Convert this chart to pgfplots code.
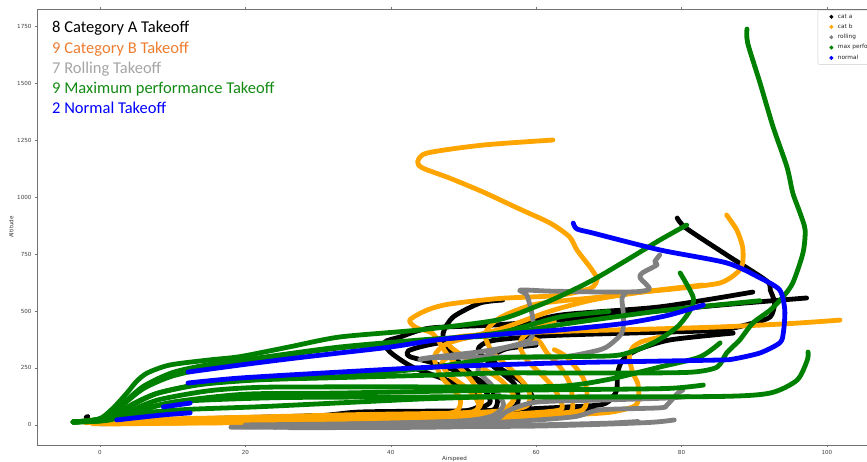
\documentclass[border=0pt]{standalone}
\usepackage{fontspec}
\setmainfont{DejaVu Sans}
\newfontfamily\carlito{Carlito}
\usepackage{pgfplots}
\pgfplotsset{compat=1.18}

\definecolor{catA}{HTML}{000000}
\definecolor{catB}{HTML}{FFA500}
\definecolor{rolling}{HTML}{808080}
\definecolor{maxp}{HTML}{008000}
\definecolor{normal}{HTML}{0000FF}
\definecolor{txtB}{HTML}{ED7D31}
\definecolor{txtR}{HTML}{A5A5A5}
\definecolor{txtG}{HTML}{138A13}

\pgfplotsset{
  traj/.style={line width=4.8pt, line cap=round, line join=round,
    smooth, tension=0.45, forget plot, no markers},
}

\begin{document}
\begin{tikzpicture}
\begin{axis}[
  scale only axis,
  width=835pt, height=436pt,
  xmin=-8.67, xmax=106.2,
  ymin=-88, ymax=1825,
  xtick={0,20,...,100},
  ytick={0,250,...,1750},
  tick align=outside,
  major tick length=2pt,
  tick style={black!55, line width=0.5pt},
  axis line style={black!55, line width=0.6pt},
  tick label style={font=\fontsize{5.6}{6}\selectfont, text=black!75},
  /pgf/number format/assume math mode=true,
  /pgf/number format/1000 sep={},
  xlabel={Airspeed}, ylabel={Altitude},
  label style={font=\fontsize{5.6}{6}\selectfont, text=black!80},
  xlabel style={yshift=5pt},
  ylabel style={yshift=-3pt},
  legend cell align=left,
  legend style={at={(rel axis cs:0.935,0.997)}, anchor=north west,
    font=\fontsize{5.8}{7}\selectfont, draw=black!20, rounded corners=1pt,
    inner sep=1.5pt, row sep=0.4pt, text=black!85},
  legend image code/.code={
    \path[draw=none, fill=none] (0,-0.05cm) rectangle (0.58cm,0.05cm);
    \fill (0.42cm,0) circle (1.8pt);},
]

% ---------------- cat a ----------------
\addplot[traj, catA] coordinates {(-1.8,12) (5,18) (15,28) (30,40) (45,50) (51,62) (53.6,96) (53.2,140) (51.9,197) (49.5,272) (47.7,342) (47.2,403) (48.6,474) (52.3,535) (55.4,548)};
\addplot[traj, catA] coordinates {(-1,8) (10,15) (25,28) (40,40) (49,55) (52,79) (52,118) (50.9,154) (47.7,197) (43,254) (39.9,320) (39.2,364) (41.3,386) (45.4,425) (55,440) (70,480) (85,525) (97.2,557)};
\addplot[traj, catA] coordinates {(-0.5,6) (12,14) (28,26) (42,38) (50,48) (54,62) (54.6,120) (52,200) (46,270) (42.6,300) (42.4,325) (45,350) (50,380) (57,430) (63.3,482) (77,518) (89.8,583)};
\addplot[traj, catA] coordinates {(0,10) (15,22) (30,34) (45,44) (53,50) (56,58) (57.5,100) (57,180) (54,260) (52,330) (54,370) (62,392) (75,405) (85.3,416) (89.8,447) (92.2,474) (92.8,535) (92.2,592) (91.7,632) (86.2,746) (80.6,864) (79.4,908)};
\addplot[traj, catA] coordinates {(0.5,8) (15,20) (35,40) (50,55) (60,72) (68.8,88) (70.5,123) (71.1,154) (71.2,228) (71.9,285) (73.9,329) (78.4,373) (87.1,403)};
\addplot[traj, catA] coordinates {(-1.2,14) (12,20) (30,34) (45,46) (55,56) (58.5,75) (59.5,120) (58,190) (55,250) (54,300) (56,335) (60,350)};
\addplot[traj, catA] coordinates {(-0.8,10) (20,30) (40,50) (55,58) (65,62) (70,64)};
\addplot[traj, catA] coordinates {(0,5) (15,20) (30,40) (36,57) (50,62) (60,68) (65,80)};
\addplot[traj, catA] coordinates {(-1.9,34) (-1.7,37)};

% ---------------- cat b ----------------
\addplot[traj, catB] coordinates {(-2.5,15) (10,22) (25,32) (40,42) (48,50) (51.5,60) (52.5,110) (51,200) (48,300) (45.8,400) (43.6,425) (42.6,460) (45,504) (48,530) (55,555) (63,568) (67.5,600) (68.4,640) (68.1,660) (67.4,693) (65.6,768) (64.6,825) (61.9,886) (57.4,952) (52.7,1022) (48.1,1083) (44.4,1127) (43.7,1154) (45,1193) (52.7,1228) (62.3,1250)};
\addplot[traj, catB] coordinates {(-2,10) (15,20) (35,35) (50,48) (55,60) (57,120) (55,200) (51,280) (48,350) (49,385) (55,400) (65,412) (75,420) (85.3,430) (95,445) (101.8,460)};
\addplot[traj, catB] coordinates {(-1.5,20) (15,30) (35,45) (52,55) (58.5,80) (59,150) (57,230) (54,320) (53,400) (55,470) (60,530) (68.8,561) (73.3,579) (80.2,601) (85.3,623) (87.6,667) (88.4,710) (88.4,781) (87.6,855) (86.2,921)};
\addplot[traj, catB] coordinates {(-1,5) (20,15) (35,28) (45,40) (49,60) (49.5,120) (47,210) (46,300) (48,360) (55,420) (62,500) (68,550) (75,585) (82.9,614)};
\addplot[traj, catB] coordinates {(0,8) (20,18) (40,30) (52,40) (58,50) (63.3,66) (63.3,110) (62.3,167) (60.5,228) (58.7,285) (57.8,342) (58.2,386) (60.9,447) (62.5,455)};
\addplot[traj, catB] coordinates {(1,4) (20,12) (40,22) (55,35) (60,45) (64.6,53) (65,110) (64.6,184) (63.3,254) (61.5,316) (60.5,364) (59.5,380)};
\addplot[traj, catB] coordinates {(0.5,12) (20,20) (40,30) (55,40) (62,50) (66.4,66) (67,140) (66.4,210) (64.2,298) (62.5,330)};
\addplot[traj, catB] coordinates {(1,6) (20,10) (40,18) (55,30) (65,45) (70,55) (73.3,79) (74.1,110) (74,180) (73.3,228) (72.8,298) (73.3,340) (74.5,365) (77,385)};
\addplot[traj, catB] coordinates {(-0.5,18) (20,26) (38,34) (47,42) (51.5,58) (52,100) (50.5,160) (48,220) (47,270) (48,300)};

% ---------------- rolling ----------------
\addplot[traj, rolling] coordinates {(20,0) (35,5) (48,14) (53,25) (55,45)};
\addplot[traj, rolling] coordinates {(44.2,290) (46,298) (52,320) (56,342) (59.1,373) (59.6,430) (59.4,491) (58.7,570) (57.8,592) (62,587) (70,583) (74,585) (75.6,598) (74.3,645) (74.6,667) (76.6,702) (76.3,715) (77,746)};
\addplot[traj, rolling] coordinates {(44,286) (46,295) (55,298) (63.3,298) (67.5,320) (69.7,342) (71.8,404) (72,480) (71.8,557) (72.3,578)};
\addplot[traj, rolling] coordinates {(20,-8) (40,0) (55,12) (65,35) (68.8,66) (77,75) (78,88) (79.5,140) (80.2,153)};
\addplot[traj, rolling] coordinates {(24,-10) (45,-4) (54,20) (56,60) (60,100) (70,110) (78,118) (81,125)};
\addplot[traj, rolling] coordinates {(18,-10) (40,-8) (60,-5) (75,10) (79,22)};
\addplot[traj, rolling] coordinates {(22,-6) (40,8) (50,18) (54,40) (55.5,90) (54,170) (52,240) (53,300) (56,340) (60,360)};
\addplot[traj, rolling] coordinates {(26,-12) (45,-10) (60,0) (70,8) (74,15)};

% ---------------- max performance ----------------
\addplot[traj, maxp] coordinates {(-3.7,13) (-1,20) (0.4,35) (2,80) (3.7,140) (5,190) (6.5,228) (9.6,263) (15,285) (19.3,300) (26,342) (33,386) (44,417) (54.6,460) (60,520) (63.3,565) (67.8,636) (72.5,724) (77,811) (80.7,877)};
\addplot[traj, maxp] coordinates {(-3.7,13) (0,22) (2.5,55) (5,100) (8,140) (14,178) (22,198) (33,208) (45,218) (55,228) (65,228) (75,228) (81.6,232) (84.9,254) (86.2,316) (88,373) (89.8,447) (92.2,504) (93.9,560) (95.3,623) (96.7,754) (97,855) (96.3,930) (95.3,1018) (94.5,1132) (92.6,1307) (90.8,1500) (89.1,1675) (89,1737)};
\addplot[traj, maxp] coordinates {(-3.7,13) (0,18) (3,45) (7,80) (12,105) (25,120) (45,123) (65,123) (85.3,125) (92.2,140) (95.9,197) (97.3,285) (97.4,320)};
\addplot[traj, maxp] coordinates {(-3.7,13) (1,25) (4,80) (8,140) (14,180) (22,200) (33,212) (45,250) (55,294) (65,300) (71.5,307) (76.1,360) (79.4,430) (81.2,504) (81.6,561) (79.8,667)};
\addplot[traj, maxp] coordinates {(-3.7,13) (0.5,30) (3,90) (6,170) (10,230) (15,265) (22,295) (33,342) (45,375) (55,395) (63.3,440) (77,500) (90.8,545)};
\addplot[traj, maxp] coordinates {(-3.7,13) (1,22) (4,60) (8,110) (15,150) (22,165) (33,167) (50,167) (63.3,170) (70,200) (77,254) (82.5,298) (85.3,360)};
\addplot[traj, maxp] coordinates {(-3.7,13) (1,20) (5,55) (10,100) (20,135) (33,140) (50,150) (65,155) (78,160) (83,175)};
\addplot[traj, maxp] coordinates {(-3.7,13) (0.5,28) (3,85) (6,160) (10,215) (16,258) (24,300) (33,338) (45,372) (55,405) (63.3,474) (70,498)};
\addplot[traj, maxp] coordinates {(-3.7,13) (1,25) (5,50) (12,68) (22,80) (35,100) (45,115) (55,125)};

% ---------------- normal ----------------
\addplot[traj, normal] coordinates {(2.3,22) (6,35) (9,45) (12.4,53)};
\addplot[traj, normal] coordinates {(12.1,232) (19.3,263) (26,290) (33,316) (40,342) (46.8,375) (55,398) (63.3,417) (72,445) (78,480) (83,526)};
\addplot[traj, normal] coordinates {(8.7,79) (12.4,96)};
\addplot[traj, normal] coordinates {(12.1,184) (19.3,206) (33,232) (46,254) (63,272) (77,280) (85.3,285) (87.1,289) (90.8,316) (93.5,360) (94,404) (94.2,504) (93.5,592) (90.8,645) (86.2,711) (77,768) (67.8,842) (65.6,860) (65.1,886)};

% ---------------- legend ----------------
\addlegendimage{catA}\addlegendentry{cat a}
\addlegendimage{catB}\addlegendentry{cat b}
\addlegendimage{rolling}\addlegendentry{rolling}
\addlegendimage{maxp}\addlegendentry{max performance}
\addlegendimage{normal}\addlegendentry{normal}

% ---------------- counts ----------------
\begin{scope}[every node/.style={anchor=base west, inner sep=0pt,
    font=\carlito\fontsize{16.5}{18}\selectfont}]
\node[text=black]  at (rel axis cs:0.018,0.945) {8 Category A Takeoff};
\node[text=txtB]   at (rel axis cs:0.018,0.899) {9 Category B Takeoff};
\node[text=txtR]   at (rel axis cs:0.018,0.853) {7 Rolling Takeoff};
\node[text=txtG]   at (rel axis cs:0.018,0.807) {9 Maximum performance Takeoff};
\node[text=normal] at (rel axis cs:0.018,0.761) {2 Normal Takeoff};
\end{scope}
\end{axis}
\pgfresetboundingbox
\useasboundingbox (-37pt,-17pt) rectangle (830pt,445pt);
\end{tikzpicture}
\end{document}
